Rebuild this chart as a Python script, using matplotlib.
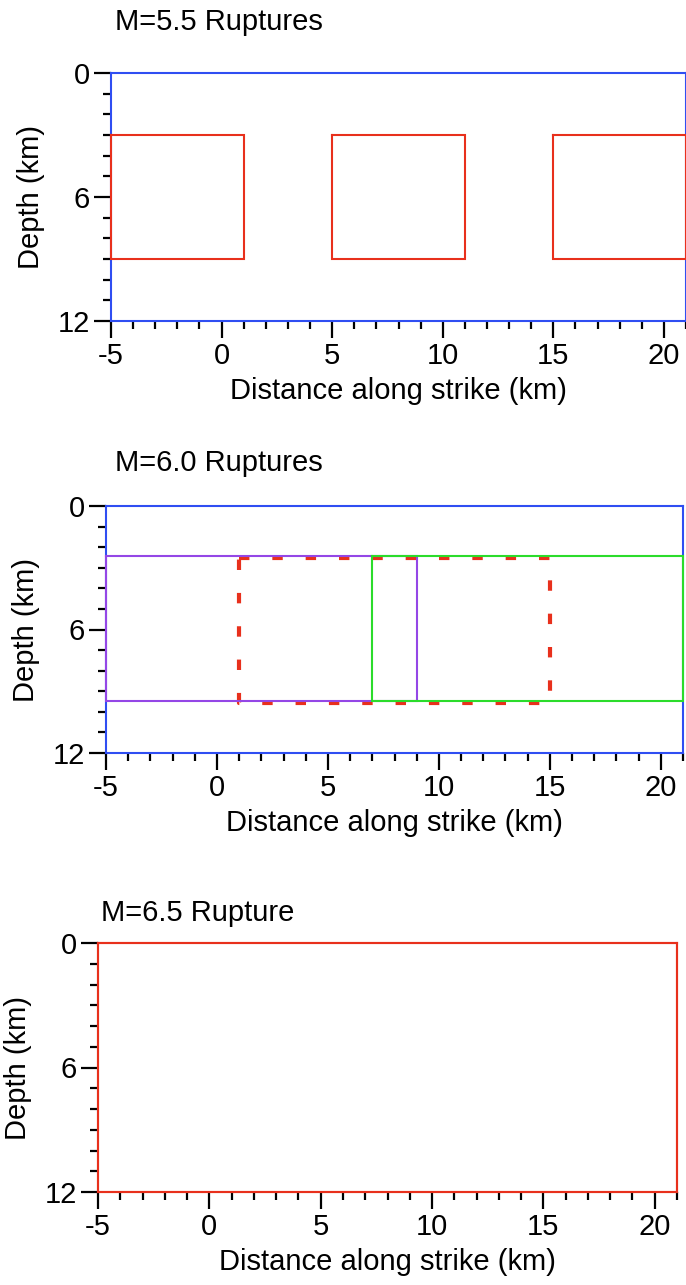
import matplotlib
matplotlib.use("Agg")
import matplotlib.pyplot as plt
from matplotlib.ticker import MultipleLocator

plt.rcParams['font.family'] = ['Liberation Sans', 'DejaVu Sans']
plt.rcParams['axes.unicode_minus'] = False

# panel titles
titles = ["M=5.5 Ruptures", "M=6.0 Ruptures", "M=6.5 Rupture"]

# rupture rectangles: (x0, x1, top depth, bottom depth)
m55_boxes = [(-5, 1, 3, 9), (5, 11, 3, 9), (15, 21, 3, 9)]
m60_dashed = [(1, 15, 2.55, 9.55)]
m60_purple = [(-5, 9, 2.45, 9.45)]
m60_green = [(7, 21, 2.45, 9.45)]
m65_box = [(-5, 21, 0, 12)]

xlim = (-5, 21)
ylim = (12, 0)
xticks = [-5, 0, 5, 10, 15, 20]
yticks = [0, 6, 12]

BLUE = '#2f4ef2'
RED = '#e8301c'
PURPLE = '#9447e6'
GREEN = '#2bdc2b'

W, H = 686, 1285
fig = plt.figure(figsize=(W / 100, H / 100), dpi=100)


def box(ax, rects, color, lw=1.5, ls='-', z=3):
    for x0, x1, y0, y1 in rects:
        ax.plot([x0, x1, x1, x0, x0], [y0, y0, y1, y1, y0], color=color,
                lw=lw, ls=ls, clip_on=False, zorder=z, solid_joinstyle='miter')


def setup(ax, spine_color, title, tx, ty):
    ax.set_xlim(*xlim)
    ax.set_ylim(*ylim)
    ax.set_xticks(xticks)
    ax.set_yticks(yticks)
    ax.xaxis.set_minor_locator(MultipleLocator(1))
    ax.yaxis.set_minor_locator(MultipleLocator(1))
    ax.tick_params(which='major', length=12, width=1.6, labelsize=21, pad=3,
                   direction='out', colors='black')
    ax.tick_params(which='minor', length=6, width=1.6, direction='out')
    for s in ax.spines.values():
        s.set_color(spine_color)
        s.set_linewidth(1.5)
    ax.set_xlabel("Distance along strike (km)", fontsize=21, labelpad=5)
    ax.set_ylabel("Depth (km)", fontsize=21, labelpad=9)
    fig.text(tx / W, 1 - ty / H, title, fontsize=21, ha='left', va='center')


# M=5.5
ax1 = fig.add_axes([111 / W, 1 - 321 / H, (686 - 111) / W, 248 / H])
setup(ax1, BLUE, titles[0], 115, 22)
box(ax1, m55_boxes, RED)

# M=6.0
ax2 = fig.add_axes([106 / W, 1 - 753 / H, (683 - 106) / W, 247 / H])
setup(ax2, BLUE, titles[1], 115, 463)
box(ax2, m60_dashed, RED, lw=3, ls=(0, (2.5, 5.5)), z=2)
box(ax2, m60_purple, PURPLE, z=3)
box(ax2, m60_green, GREEN, z=4)

# M=6.5
ax3 = fig.add_axes([98 / W, 1 - 1192 / H, (677 - 98) / W, 249 / H])
setup(ax3, RED, titles[2], 101, 913)
box(ax3, m65_box, RED)

fig.savefig("out.png", dpi=100)
